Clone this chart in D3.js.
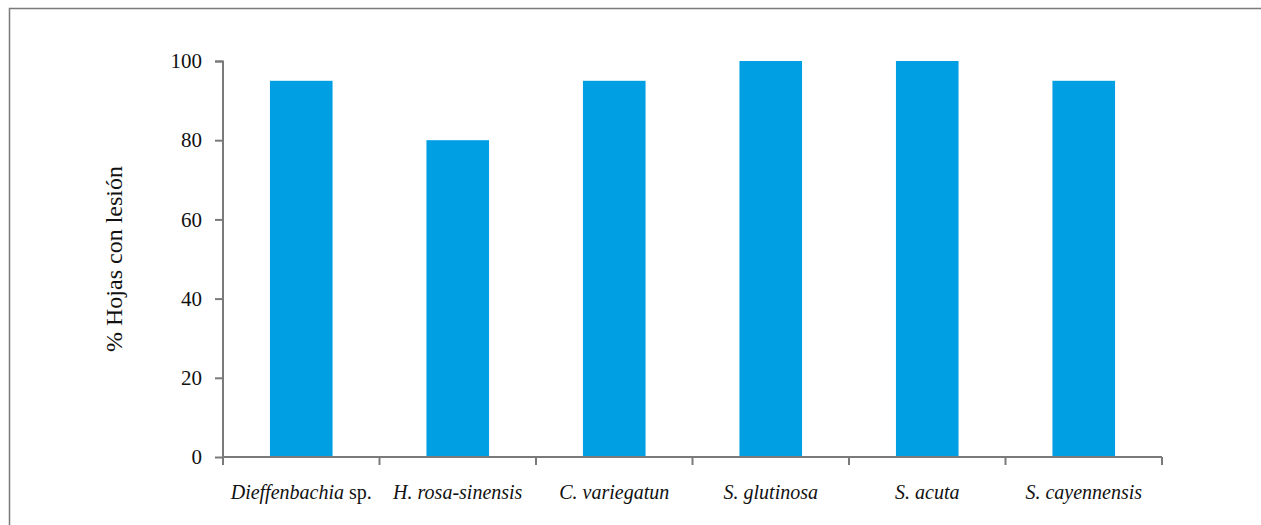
<!DOCTYPE html>
<html>
<head>
<meta charset="utf-8">
<script src="https://cdn.jsdelivr.net/npm/d3@7"></script>
<style>
  html, body { margin: 0; padding: 0; background: #fff; }
  svg { display: block; }
</style>
</head>
<body>
<svg id="chart" width="1261" height="525"></svg>
<script>
// Species (italic part, plain suffix) and percentage of leaves with lesions
const species = ["Dieffenbachia", "H. rosa-sinensis", "C. variegatun", "S. glutinosa", "S. acuta", "S. cayennensis"];
const speciesSuffix = [" sp.", "", "", "", "", ""];
const lesionPct = [95, 80, 95, 100, 100, 95];
const yTicks = [0, 20, 40, 60, 80, 100];

const FONT = "'Liberation Serif', 'DejaVu Serif', serif";
const AXIS_GREY = "#7a7a7a";

const svg = d3.select("#chart");
const W = 1261, H = 525;
const margin = { left: 223, right: 99, top: 61, bottom: 68 };
const plotW = W - margin.left - margin.right;
const plotH = H - margin.top - margin.bottom;

// outer frame (right and bottom edges fall outside the canvas)
svg.append("rect")
  .attr("x", 9.5).attr("y", 8.5)
  .attr("width", W + 20).attr("height", H + 20)
  .attr("fill", "none").attr("stroke", AXIS_GREY).attr("stroke-width", 1.5);

const g = svg.append("g").attr("transform", `translate(${margin.left},${margin.top})`);

const x = d3.scaleBand().domain(species).range([0, plotW]).padding(0);
const y = d3.scaleLinear().domain([0, 100]).range([plotH, 0]);

const barW = x.bandwidth() * 0.4;

g.selectAll("rect.bar")
  .data(species)
  .join("rect")
  .attr("class", "bar")
  .attr("x", d => x(d) + (x.bandwidth() - barW) / 2)
  .attr("width", barW)
  .attr("y", (d, i) => y(lesionPct[i]))
  .attr("height", (d, i) => y(0) - y(lesionPct[i]))
  .attr("fill", "#009fe3");

// y axis
const yAxis = g.append("g")
  .call(d3.axisLeft(y).tickValues(yTicks).tickSize(8).tickPadding(13).tickFormat(d3.format("d")))
  .attr("font-family", null).attr("font-size", null);
yAxis.select(".domain").attr("stroke", AXIS_GREY).attr("stroke-width", 2).attr("d", `M-8,0.5H0V${plotH}`);
yAxis.selectAll(".tick line").attr("stroke", AXIS_GREY).attr("stroke-width", 2);
yAxis.selectAll(".tick text")
  .style("font-family", FONT).style("font-size", "21px").attr("fill", "#111");

// x axis: ticks at category boundaries
const xAxis = g.append("g").attr("transform", `translate(0,${plotH})`);
xAxis.append("path")
  .attr("d", `M0,0H${plotW}`)
  .attr("stroke", AXIS_GREY).attr("stroke-width", 2).attr("fill", "none");
const bounds = species.map(d => x(d)).concat([plotW]);
xAxis.selectAll("line.bound")
  .data(bounds)
  .join("line")
  .attr("class", "bound")
  .attr("x1", d => d).attr("x2", d => d)
  .attr("y1", 0).attr("y2", 8)
  .attr("stroke", AXIS_GREY).attr("stroke-width", 2);

const labels = xAxis.selectAll("text.cat")
  .data(species)
  .join("text")
  .attr("class", "cat")
  .attr("x", d => x(d) + x.bandwidth() / 2)
  .attr("y", 42)
  .attr("text-anchor", "middle")
  .attr("fill", "#111")
  .style("font-family", FONT)
  .style("font-size", "20px");
labels.append("tspan").style("font-style", "italic").text(d => d);
labels.append("tspan").text((d, i) => speciesSuffix[i]);

// y title
svg.append("text")
  .attr("transform", `translate(122,${margin.top + plotH / 2}) rotate(-90)`)
  .attr("text-anchor", "middle")
  .attr("fill", "#111")
  .style("font-family", FONT)
  .style("font-size", "24px")
  .text("% Hojas con lesión");
</script>
</body>
</html>
